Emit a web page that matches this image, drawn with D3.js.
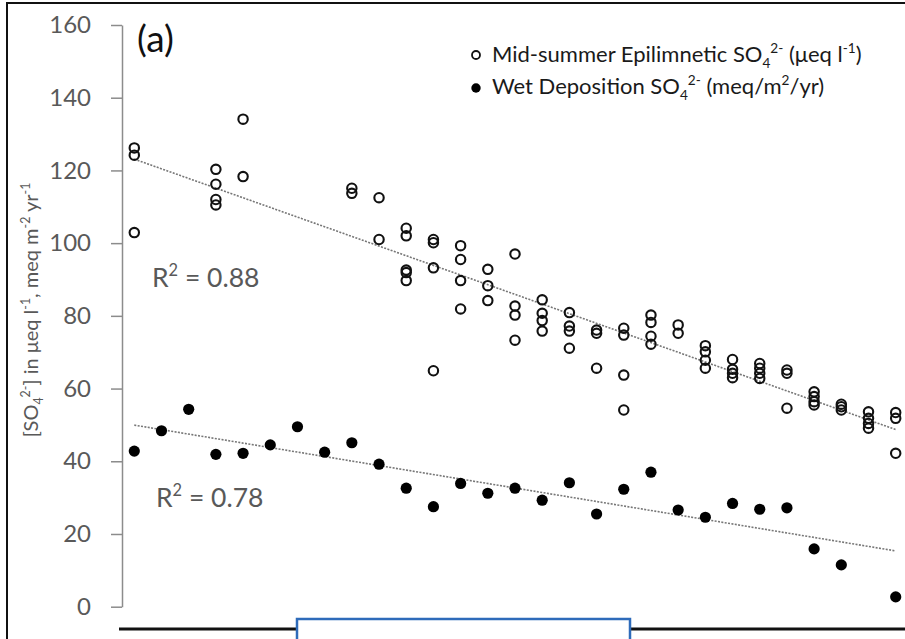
<!DOCTYPE html>
<html>
<head>
<meta charset="utf-8">
<script src="https://cdn.jsdelivr.net/npm/d3@7/dist/d3.min.js"></script>
<style>
  body { margin: 0; background: #fff; }
  svg text { font-family: Lato, "Open Sans", sans-serif; }
</style>
</head>
<body>
<svg></svg>
<script>
var width = 905,
    height = 639

// sampling years (x labels are hidden in the original panel)
var years = d3.range(1984, 2013)

// mid-summer epilimnetic SO4 (ueq/l), several lakes per year, aligned with years
var epiSO4 = [
    [126.2, 124.2, 102.9], [], [], [120.3, 116.2, 112.0, 110.5], [134.1, 118.3],
    [], [], [], [115.1, 113.7], [112.5, 101.0],
    [104.1, 102.0, 92.6, 91.9, 89.7], [101.0, 100.1, 93.2, 64.9], [99.3, 95.5, 89.7, 81.9],
    [92.8, 88.3, 84.2], [97.0, 82.7, 80.2, 73.3], [84.4, 80.7, 78.7, 75.8],
    [80.9, 77.2, 75.8, 71.1], [76.1, 75.2, 65.6], [76.6, 74.7, 63.7, 54.1],
    [80.2, 78.2, 74.4, 72.2], [77.5, 75.2], [71.8, 70.1, 67.8, 65.6],
    [68.0, 65.3, 64.2, 63.0], [66.9, 65.6, 64.2, 62.8], [65.1, 64.2, 54.6],
    [59.1, 57.8, 56.4, 55.5], [55.7, 55.0, 54.1], [53.6, 51.8, 50.4, 49.1],
    [53.4, 51.8, 42.2]
]

// wet deposition SO4 (meq/m2/yr), null = no value
var depSO4 = [42.8, 48.4, 54.3, 41.9, 42.2, 44.5, 49.5, 42.5, 45.1, 39.2,
    32.6, 27.5, 33.9, 31.2, 32.6, 29.3, 34.1, 25.5, 32.3, 37.0,
    26.6, 24.6, 28.4, 26.8, 27.2, 15.9, 11.5, null, 2.7]

var yTicks = [0, 20, 40, 60, 80, 100, 120, 140, 160]
var rSquaredLabels = ["0.88", "0.78"]

var x = d3.scaleLinear().domain([1984, 2012]).range([134.3, 895.7])
var y = d3.scaleLinear().domain([0, 160]).range([606.7, 25])

function fit(points) {
    var mx = d3.mean(points, d => d[0]),
        my = d3.mean(points, d => d[1])
    var sxy = d3.sum(points, d => (d[0] - mx) * (d[1] - my))
    var sxx = d3.sum(points, d => (d[0] - mx) * (d[0] - mx))
    var b = sxy / sxx
    var a = my - b * mx
    var ext = d3.extent(points, d => d[0])
    return ext.map(v => [v, a + b * v])
}

// write text pieces with sub / superscripts
function richText(g, parts, size) {
    var shift = 0
    parts.forEach(function(p) {
        var t = g.append("tspan").text(p[0])
        var want = p[1] == "sub" ? size * 0.25 : p[1] == "sup" ? -size * 0.4 : 0
        if (want != shift) t.attr("dy", want - shift)
        shift = want
        if (p[1]) t.attr("font-size", size * 0.62)
    })
}

var svg = d3.select("svg")
    .attr("width", width)
    .attr("height", height)

var epiPoints = []
years.forEach(function(yr, i) {
    epiSO4[i].forEach(v => epiPoints.push([yr, v]))
})
var depPoints = []
years.forEach(function(yr, i) {
    if (depSO4[i] != null) depPoints.push([yr, depSO4[i]])
})

// frame
svg.append("path")
    .attr("d", "M7,645V3H910")
    .attr("fill", "none")
    .attr("stroke", "#111")
    .attr("stroke-width", 2)

// y axis
var yAxis = svg.append("g")
    .attr("transform", "translate(122,0)")
    .call(d3.axisLeft(y).tickValues(yTicks).tickSize(11).tickSizeOuter(0).tickPadding(20))
yAxis.selectAll("path, line").attr("stroke", "#8c8c8c").attr("stroke-width", 1.5)
yAxis.selectAll("text")
    .attr("fill", "#595959")
    .attr("font-size", 24)
    .style("font-family", "Lato, sans-serif")

// y label
var ylab = svg.append("text")
    .attr("transform", "translate(38,310) rotate(-90)")
    .attr("text-anchor", "middle")
    .attr("fill", "#595959")
    .attr("font-size", 20)
richText(ylab, [["[SO"], ["4", "sub"], ["2-", "sup"], ["] in \u03bceq l"], ["-1", "sup"],
    [", meq m"], ["-2", "sup"], [" yr"], ["-1", "sup"]], 20)

// trend lines
var line = d3.line().x(d => x(d[0])).y(d => y(d[1]))
;[epiPoints, depPoints].forEach(function(pts) {
    svg.append("path")
        .attr("d", line(fit(pts)))
        .attr("fill", "none")
        .attr("stroke", "#777")
        .attr("stroke-width", 1.6)
        .attr("stroke-dasharray", "2,1.4")
})

// points
svg.append("g").selectAll("circle")
    .data(epiPoints)
    .enter()
    .append("circle")
    .attr("cx", d => x(d[0]))
    .attr("cy", d => y(d[1]))
    .attr("r", 4.7)
    .attr("fill", "none")
    .attr("stroke", "#111")
    .attr("stroke-width", 2.1)

svg.append("g").selectAll("circle")
    .data(depPoints)
    .enter()
    .append("circle")
    .attr("cx", d => x(d[0]))
    .attr("cy", d => y(d[1]))
    .attr("r", 5.6)
    .attr("fill", "#000")

// panel letter + R2 labels
svg.append("text").attr("x", 137).attr("y", 52)
    .attr("font-size", 37).attr("fill", "#111").text("(a)")

;[[152, 287], [156, 507]].forEach(function(p, i) {
    var t = svg.append("text").attr("x", p[0]).attr("y", p[1])
        .attr("font-size", 26.5).attr("fill", "#595959")
    richText(t, [["R"], ["2", "sup"], [" = " + rSquaredLabels[i]]], 26.5)
})

// legend
var leg = svg.append("g")
leg.append("circle").attr("cx", 476).attr("cy", 55).attr("r", 4)
    .attr("fill", "none").attr("stroke", "#111").attr("stroke-width", 1.8)
leg.append("circle").attr("cx", 476).attr("cy", 88).attr("r", 4.7).attr("fill", "#000")
var l1 = leg.append("text").attr("x", 492).attr("y", 62).attr("font-size", 22).attr("fill", "#1a1a1a")
richText(l1, [["Mid-summer Epilimnetic SO"], ["4", "sub"], ["2-", "sup"], [" (\u03bceq l"], ["-1", "sup"], [")"]], 22)
var l2 = leg.append("text").attr("x", 492).attr("y", 94).attr("font-size", 22).attr("fill", "#1a1a1a")
richText(l2, [["Wet Deposition SO"], ["4", "sub"], ["2-", "sup"], [" (meq/m"], ["2", "sup"], ["/yr)"]], 22)

// lower panel edge and cropped label box
svg.append("line")
    .attr("x1", 119).attr("x2", 910).attr("y1", 629).attr("y2", 629)
    .attr("stroke", "#111").attr("stroke-width", 3)
svg.append("rect")
    .attr("x", 297).attr("y", 619).attr("width", 333).attr("height", 40)
    .attr("fill", "#fff").attr("stroke", "#2e6bba").attr("stroke-width", 2.5)
</script>
</body>
</html>
